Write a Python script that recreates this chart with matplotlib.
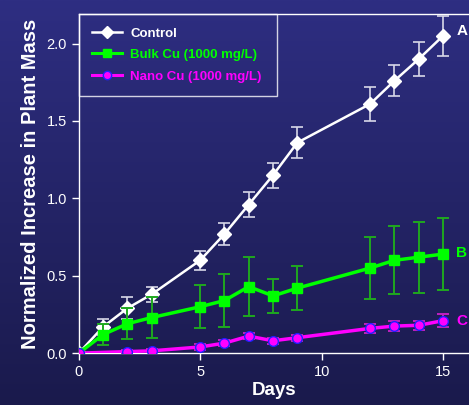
import numpy as np
import matplotlib.pyplot as plt
from matplotlib.lines import Line2D

plt.rcParams['font.family'] = ['Liberation Sans', 'DejaVu Sans']

# Control
ctrl_days = [0, 1, 2, 3, 5, 6, 7, 8, 9, 12, 13, 14, 15]
ctrl_mean = [0.0, 0.17, 0.29, 0.38, 0.60, 0.77, 0.96, 1.15, 1.36, 1.61, 1.76, 1.90, 2.05]
ctrl_err = [0.0, 0.05, 0.07, 0.05, 0.06, 0.07, 0.08, 0.08, 0.10, 0.11, 0.10, 0.11, 0.13]

# Bulk Cu
bulk_days = [0, 1, 2, 3, 5, 6, 7, 8, 9, 12, 13, 14, 15]
bulk_mean = [0.0, 0.12, 0.19, 0.23, 0.30, 0.34, 0.43, 0.37, 0.42, 0.55, 0.60, 0.62, 0.64]
bulk_err = [0.0, 0.07, 0.10, 0.13, 0.14, 0.17, 0.19, 0.11, 0.14, 0.20, 0.22, 0.23, 0.23]

# Nano Cu
nano_days = [0, 2, 3, 5, 6, 7, 8, 9, 12, 13, 14, 15]
nano_mean = [0.0, 0.01, 0.015, 0.04, 0.065, 0.11, 0.08, 0.10, 0.16, 0.175, 0.18, 0.21]
nano_err = [0.0, 0.01, 0.01, 0.02, 0.02, 0.02, 0.02, 0.02, 0.03, 0.03, 0.03, 0.04]

labels = ['Control', 'Bulk Cu (1000 mg/L)', 'Nano Cu (1000 mg/L)']
end_tags = ['A', 'B', 'C']
colors = ['white', '#00ff00', '#ff00ff']

fig = plt.figure(figsize=(4.69, 4.05), dpi=100)

# gradient background
bg = fig.add_axes([0, 0, 1, 1], zorder=-10)
grad = np.linspace(0, 1, 256).reshape(-1, 1)
top = np.array([0x2e, 0x2e, 0x82]) / 255
bot = np.array([0x1a, 0x1a, 0x4c]) / 255
img = top + (bot - top) * grad[:, :, None]
bg.imshow(img, aspect='auto', extent=[0, 1, 0, 1])
bg.axis('off')

ax = fig.add_axes([0.168, 0.128, 0.832, 0.837])
ax.patch.set_alpha(0)

ax.errorbar(ctrl_days, ctrl_mean, yerr=ctrl_err, color='white', ecolor='#d8d8e8',
            marker='D', markersize=7, lw=1.8, elinewidth=1.2, capsize=4, capthick=1.2,
            zorder=3)
ax.errorbar(bulk_days, bulk_mean, yerr=bulk_err, color='#00ff00', ecolor='#1fa81f',
            marker='s', markersize=7, lw=2.5, elinewidth=1.4, capsize=4, capthick=1.4,
            zorder=4)
ax.errorbar(nano_days, nano_mean, yerr=nano_err, color='#ff00ff', ecolor='#c020c0',
            marker='o', markersize=7, markerfacecolor='#ff00ff', markeredgecolor='#2020ff',
            lw=2.5, elinewidth=1.4, capsize=4, capthick=1.4, zorder=5)

ends = [ctrl_mean[-1] + 0.03, bulk_mean[-1] + 0.01, nano_mean[-1]]
for tag, yv, c in zip(end_tags, ends, colors):
    ax.text(15.55, yv, tag, color=c, fontsize=11, fontweight='bold', va='center')

ax.set_xlim(0, 16.07)
ax.set_ylim(0, 2.19)
ax.set_xticks([0, 5, 10, 15])
ax.set_yticks([0.0, 0.5, 1.0, 1.5, 2.0])
ax.set_yticklabels(['0.0', '0.5', '1.0', '1.5', '2.0'])

for s in ['left', 'bottom', 'top']:
    ax.spines[s].set_color('white')
    ax.spines[s].set_linewidth(1)
ax.spines['right'].set_visible(False)
ax.tick_params(colors='white', labelsize=10.5, direction='out', length=5, width=1)

ax.set_xlabel('Days', color='white', fontsize=13.5, fontweight='bold', labelpad=2)
ax.set_ylabel('Normalized Increase in Plant Mass', color='white', fontsize=14.5,
              fontweight='bold', labelpad=5)

handles = [
    Line2D([], [], color='white', marker='D', markersize=6, lw=1.8),
    Line2D([], [], color='#00ff00', marker='s', markersize=6, lw=2.2),
    Line2D([], [], color='#ff00ff', marker='o', markersize=6, markeredgecolor='#2020ff', lw=2.2),
]
leg = ax.legend(handles, labels, loc='upper left', bbox_to_anchor=(0, 1, 0.508, 0),
                mode='expand', frameon=True, fancybox=False,
                prop={'weight': 'bold', 'size': 9.5},
                borderaxespad=0, handlelength=2.3, handletextpad=0.6,
                borderpad=1.0, labelspacing=0.7)
leg.get_frame().set_facecolor('none')
leg.get_frame().set_edgecolor('white')
leg.get_frame().set_linewidth(1)
for txt, c in zip(leg.get_texts(), colors):
    txt.set_color(c)

fig.savefig('out.png', dpi=100)
